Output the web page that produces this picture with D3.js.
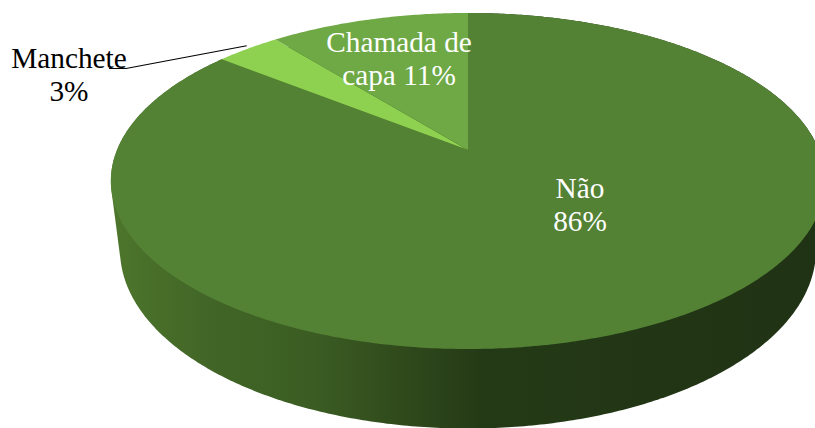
<!DOCTYPE html>
<html>
<head>
<meta charset="utf-8">
<script src="https://cdn.jsdelivr.net/npm/d3@7"></script>
<style>
html,body{margin:0;padding:0;background:#fff;overflow:hidden}
text{font-family:"Liberation Serif","Times New Roman",serif;font-size:29.3px;text-anchor:middle}
</style>
</head>
<body>
<svg id="chart" width="815" height="428"></svg>
<script>
const categories = ["Não", "Manchete", "Chamada de capa"];
const values = [85.7, 3.5, 10.8];
const labelLines = [["Não", "86%"], ["Manchete", "3%"], ["Chamada de", "capa 11%"]];
const sliceColors = ["#548235", "#8ED04F", "#6EA946"];

const W = 815, H = 428;
const tilt = 0.1845;
const topFace = {x0: 468, y0: 150, a: 351, b: 162.3};
const bottomFace = {x0: 468, y0: 217, a: 342, b: 172.5};
const labelPos = [
  {x: 580, y: 198, color: "#fff"},
  {x: 69, y: 68, color: "#000"},
  {x: 399, y: 52, color: "#fff"}
];
const lineH = 33;

const svg = d3.select("#chart");
const color = d3.scaleOrdinal().domain(categories).range(sliceColors);
const arcs = d3.pie().sort(null).value(d => d)(values);

function project(face, theta) {
  const X = Math.sin(theta), Y = -Math.cos(theta);
  const w = 1 - tilt * Y;
  return [face.x0 + face.a * X / w, face.y0 + face.b * Y / w];
}
function rim(face, start, end) {
  const n = Math.max(8, Math.ceil((end - start) / 0.01));
  return d3.range(n + 1).map(i => project(face, start + (end - start) * i / n));
}

// side gradient
const grad = svg.append("defs").append("linearGradient")
  .attr("id", "side").attr("gradientUnits", "userSpaceOnUse")
  .attr("x1", 111).attr("x2", 825).attr("y1", 0).attr("y2", 0);
[[0, "#4d762b"], [0.13, "#426627"], [0.28, "#3b5d23"], [0.40, "#314b1c"], [0.52, "#243a16"], [1, "#203214"]]
  .forEach(([o, c]) => grad.append("stop").attr("offset", o).attr("stop-color", c));

// side wall of the large slice: hull of its top and bottom rims
const big = arcs[0];
const hull = d3.polygonHull(rim(topFace, big.startAngle, big.endAngle)
  .concat(rim(bottomFace, big.startAngle, big.endAngle)));
svg.append("path").attr("d", "M" + hull.join("L") + "Z").attr("fill", "url(#side)");

// top faces
const line = d3.line();
svg.selectAll("path.slice").data(arcs).join("path")
  .attr("class", "slice")
  .attr("d", d => line([[topFace.x0, topFace.y0]].concat(rim(topFace, d.startAngle, d.endAngle))) + "Z")
  .attr("fill", (d, i) => color(categories[i]));

// leader line for Manchete
const mid = (arcs[1].startAngle + arcs[1].endAngle) / 2;
const tip = project(topFace, mid);
svg.append("path")
  .attr("d", line([[109, 68.5], [126, 68.5], [tip[0] - 1, tip[1] - 3]]))
  .attr("fill", "none").attr("stroke", "#000").attr("stroke-width", 1.2);

// labels
labelLines.forEach((lines, i) => {
  const t = svg.append("text").attr("fill", labelPos[i].color);
  lines.forEach((s, j) => t.append("tspan")
    .attr("x", labelPos[i].x).attr("y", labelPos[i].y + j * lineH).text(s));
});
</script>
</body>
</html>
